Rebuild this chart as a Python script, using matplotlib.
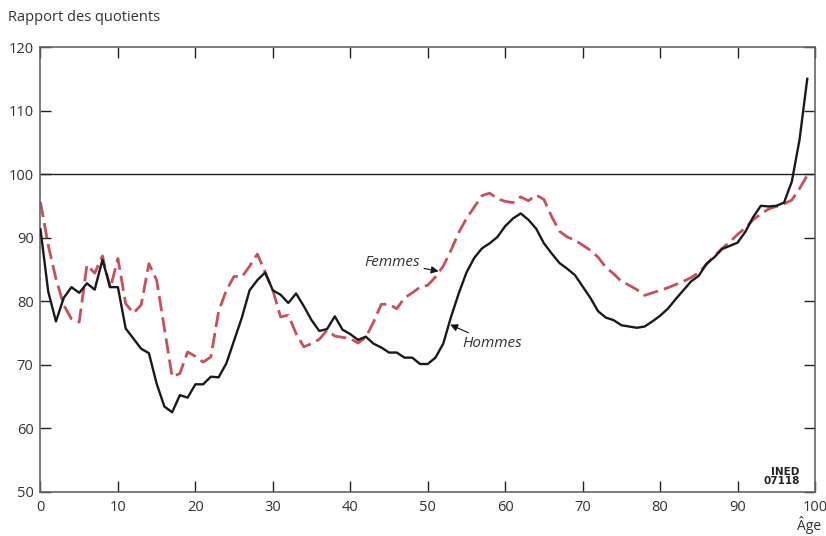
import matplotlib
matplotlib.use("Agg")
import matplotlib.pyplot as plt
import numpy as np

plt.rcParams['font.family'] = ['Open Sans', 'DejaVu Sans']

ages = list(range(0, 100))

hommes = [91.3, 81.5, 76.8, 80.5, 82.2, 81.3, 82.8, 81.8, 86.5, 82.2,
          82.2, 75.7, 74.1, 72.5, 71.8, 67.0, 63.4, 62.5, 65.2, 64.8,
          66.9, 66.9, 68.1, 68.0, 70.2, 73.8, 77.4, 81.7, 83.3, 84.5,
          81.7, 81.0, 79.7, 81.2, 79.2, 77.0, 75.3, 75.6, 77.6, 75.5,
          74.8, 73.9, 74.4, 73.3, 72.7, 71.9, 71.9, 71.1, 71.1, 70.1,
          70.1, 71.1, 73.3, 77.5, 81.2, 84.5, 86.8, 88.3, 89.1, 90.1,
          91.8, 93.0, 93.8, 92.8, 91.4, 89.1, 87.5, 86.0, 85.1, 84.1,
          82.3, 80.5, 78.4, 77.4, 77.0, 76.2, 76.0, 75.8, 76.0, 76.8,
          77.7, 78.8, 80.3, 81.7, 83.1, 84.0, 85.9, 86.9, 88.2, 88.7,
          89.2, 90.9, 93.2, 95.0, 94.9, 95.0, 95.5, 98.8, 105.4, 115.0]

femmes = [95.6, 88.8, 83.5, 79.4, 77.2, 76.7, 85.7, 84.4, 87.1, 82.0,
          86.7, 79.6, 78.1, 79.4, 85.9, 83.3, 75.7, 68.1, 68.6, 72.0,
          71.3, 70.4, 71.2, 78.4, 81.7, 83.9, 83.8, 85.5, 87.4, 84.6,
          81.7, 77.5, 77.8, 74.9, 72.8, 73.3, 74.0, 75.4, 74.5, 74.3,
          74.1, 73.4, 74.3, 76.7, 79.5, 79.5, 78.8, 80.5, 81.3, 82.2,
          82.5, 83.8, 85.5, 88.0, 90.8, 93.0, 94.8, 96.6, 97.0, 96.1,
          95.7, 95.5, 96.4, 95.8, 96.7, 96.0, 93.3, 91.0, 90.1, 89.6,
          88.8, 88.0, 86.9, 85.3, 84.3, 83.1, 82.5, 81.8, 80.9, 81.3,
          81.7, 82.1, 82.6, 83.1, 83.7, 84.5, 85.8, 87.1, 88.3, 89.3,
          90.5, 91.5, 92.8, 93.7, 94.5, 94.9, 95.3, 95.9, 97.7, 99.8]

x_ticks = [0, 10, 20, 30, 40, 50, 60, 70, 80, 90, 100]
y_ticks = [50, 60, 70, 80, 90, 100, 110, 120]

text_color = '#333333'
spine_color = '#666666'
red = '#c9505b'

fig = plt.figure(figsize=(8.26, 5.36), dpi=100)
ax = fig.add_axes([0.049, 0.0827, 0.9377, 0.8296])

ax.axhline(100, color='#222222', lw=1.0, zorder=1)
ax.plot(ages, femmes, color=red, lw=2.0, dashes=(5.5, 2.2), zorder=2)
ax.plot(ages, hommes, color='#1a1a1a', lw=1.7, zorder=3)

ax.set_xlim(0, 100)
ax.set_ylim(50, 120)
ax.set_xticks(x_ticks)
ax.set_yticks(y_ticks)

for s in ax.spines.values():
    s.set_color(spine_color)
    s.set_linewidth(1.2)

ax.tick_params(axis='both', which='both', direction='in', length=8,
               width=1.0, color='#222222', labelcolor=text_color,
               labelsize=10.5, top=True, right=True)
ax.tick_params(axis='x', pad=6)
ax.tick_params(axis='y', pad=5)

fig.text(0.010, 0.968, 'Rapport des quotients', fontsize=10.5,
         color=text_color, ha='left', va='center')
fig.text(0.980, 0.003, 'Âge', fontsize=10, color=text_color,
         ha='center', va='bottom')

ax.text(0.980, 0.012, 'INED\n07118', transform=ax.transAxes, fontsize=7.5,
        ha='right', va='bottom', color='#222222', fontweight='bold',
        family=['Liberation Sans Narrow', 'DejaVu Sans Condensed', 'DejaVu Sans'],
        linespacing=0.95)

ax.annotate('Femmes', xy=(51.4, 84.7), xytext=(49.0, 86.1),
            fontsize=11, style='italic', color=text_color,
            ha='right', va='center',
            arrowprops=dict(arrowstyle='-|>', color='#111111', lw=0.8,
                            mutation_scale=11, shrinkA=1, shrinkB=0))
ax.annotate('Hommes', xy=(52.9, 76.3), xytext=(54.5, 73.3),
            fontsize=11, style='italic', color=text_color,
            ha='left', va='center',
            arrowprops=dict(arrowstyle='-|>', color='#111111', lw=0.8,
                            mutation_scale=11, shrinkA=1, shrinkB=0))

fig.savefig('out.png', dpi=100)
